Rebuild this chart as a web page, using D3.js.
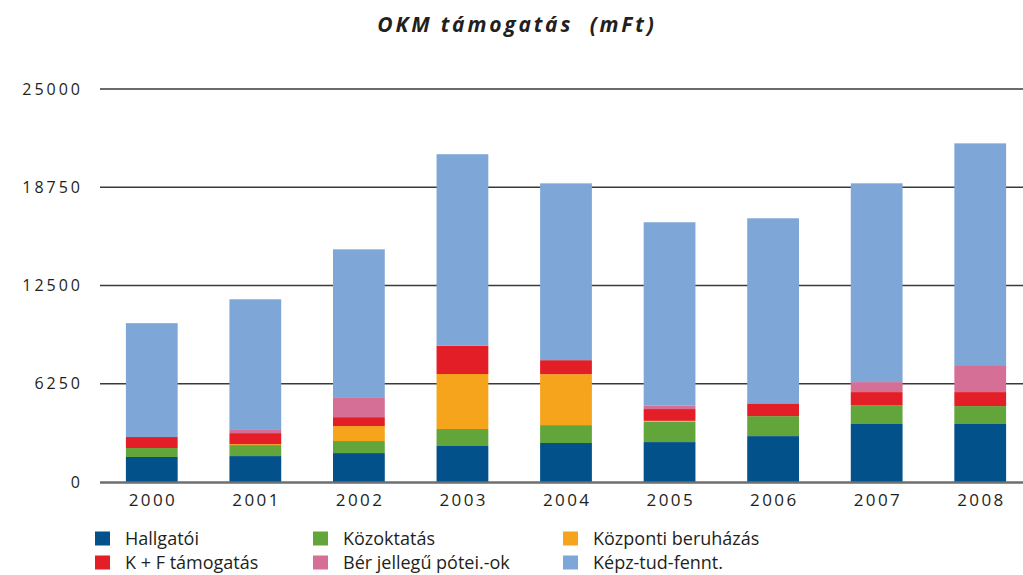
<!DOCTYPE html>
<html>
<head>
<meta charset="utf-8">
<script src="https://cdn.jsdelivr.net/npm/d3@7"></script>
<style>
  html, body { margin: 0; padding: 0; background: #fff; }
  svg { display: block; }
</style>
</head>
<body>
<svg id="chart" width="1023" height="575"></svg>
<script>
const years = ["2000","2001","2002","2003","2004","2005","2006","2007","2008"];
const seriesNames = ["Hallgatói","Közoktatás","Központi beruházás","K + F támogatás","Bér jellegű pótei.-ok","Képz-tud-fennt."];
const hallgatoi   = [1590, 1650, 1840, 2290, 2480, 2540, 2920, 3690, 3690];
const kozoktatas  = [570, 700, 766, 1080, 1140, 1290, 1270, 1200, 1140];
const kozponti    = [0, 60, 950, 3500, 3240, 60, 0, 0, 0];
const kf          = [700, 700, 570, 1800, 890, 750, 810, 830, 890];
const ber         = [0, 250, 1270, 0, 0, 210, 0, 635, 1715];
const kepz        = [7244, 8262, 9405, 12182, 11248, 11674, 11776, 12646, 14108];
const yTicks      = [0, 6250, 12500, 18750, 25000];
const colors      = ["#02518b", "#62a63b", "#f6a41c", "#e41e26", "#d66f96", "#7ea7d8"];

const seriesValues = [hallgatoi, kozoktatas, kozponti, kf, ber, kepz];
const rows = years.map((y, i) => {
  const r = { year: y };
  seriesNames.forEach((n, k) => r[n] = seriesValues[k][i]);
  return r;
});

const svg = d3.select("#chart");
const x = d3.scaleBand().domain(years).range([100, 1032]).paddingInner(0.5).paddingOuter(0.25);
const y = d3.scaleLinear().domain([0, 25000]).range([482, 89]);

// title
svg.append("text")
  .attr("x", 517).attr("y", 32)
  .attr("text-anchor", "middle")
  .attr("font-family", "'Open Sans', sans-serif")
  .attr("font-size", 21).attr("font-weight", 700).attr("font-style", "italic")
  .attr("letter-spacing", 2.8)
  .attr("fill", "#231f20")
  .attr("xml:space", "preserve")
  .text("OKM támogatás  (mFt)");

// gridlines
svg.append("g").selectAll("line")
  .data(yTicks.filter(d => d > 0))
  .join("line")
  .attr("x1", 100).attr("x2", 1023)
  .attr("y1", d => y(d)).attr("y2", d => y(d))
  .attr("stroke", "#3a3a3a").attr("stroke-width", 1.6);

// y axis labels
const yAxis = d3.axisLeft(y).tickValues(yTicks).tickSize(0).tickPadding(0).tickFormat(d3.format("d"));
const yg = svg.append("g").attr("transform", "translate(83,0)").call(yAxis);
yg.select(".domain").remove();
yg.selectAll("text")
  .attr("font-family", "'Open Sans', sans-serif")
  .attr("font-size", 16).attr("letter-spacing", 3)
  .attr("fill", "#231f20");

// stacked bars
const stack = d3.stack().keys(seriesNames);
const stacked = stack(rows);
svg.append("g").selectAll("g")
  .data(stacked)
  .join("g")
  .attr("fill", (d, i) => colors[i])
  .selectAll("rect")
  .data(d => d)
  .join("rect")
  .attr("x", d => x(d.data.year))
  .attr("width", x.bandwidth())
  .attr("y", d => y(d[1]))
  .attr("height", d => Math.max(0, y(d[0]) - y(d[1])));

// baseline
svg.append("line")
  .attr("x1", 100).attr("x2", 1023)
  .attr("y1", y(0) + 0.5).attr("y2", y(0) + 0.5)
  .attr("stroke", "#6e6e6e").attr("stroke-width", 2.6);

// x axis labels
const xAxis = d3.axisBottom(x).tickSize(0).tickPadding(0);
const xg = svg.append("g").attr("transform", "translate(0,506)").call(xAxis);
xg.select(".domain").remove();
xg.selectAll("text")
  .attr("dy", 0).attr("dx", 1.2)
  .attr("font-family", "'Open Sans', sans-serif")
  .attr("font-size", 17).attr("letter-spacing", 2.4)
  .attr("fill", "#231f20");

// legend
const legendOrder = [0, 1, 2, 3, 4, 5];
const colX = [95, 313, 563];
const rowY = [538.5, 562.5];
const lg = svg.append("g").selectAll("g")
  .data(legendOrder)
  .join("g")
  .attr("transform", (d, i) => `translate(${colX[i % 3]},${rowY[Math.floor(i / 3)]})`);
lg.append("rect")
  .attr("x", 0).attr("y", -7).attr("width", 15).attr("height", 14)
  .attr("fill", d => colors[d]);
lg.append("text")
  .attr("x", 30).attr("y", 6)
  .attr("font-family", "'Open Sans', sans-serif")
  .attr("font-size", 18)
  .attr("fill", "#231f20")
  .text(d => seriesNames[d]);
</script>
</body>
</html>
